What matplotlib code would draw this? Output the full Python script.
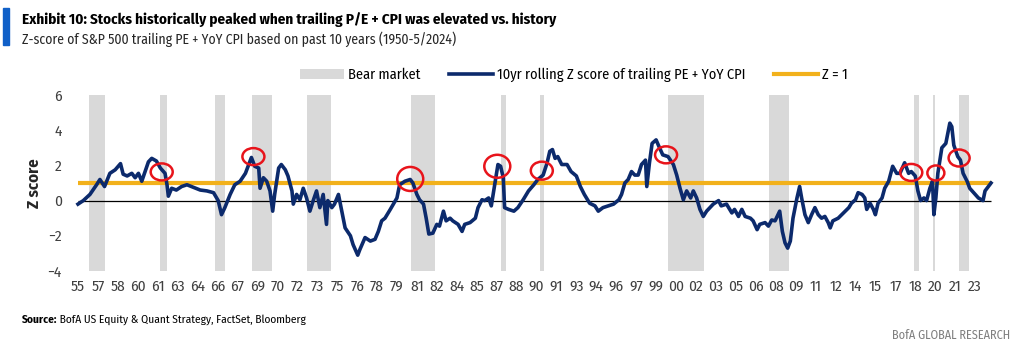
import matplotlib
matplotlib.use('Agg')
import matplotlib.pyplot as plt
from matplotlib.patches import Ellipse, Patch, Rectangle
from matplotlib.lines import Line2D
from matplotlib import font_manager

# monthly z-score (decimal year, z)
years = [1955.9, 1956.3, 1956.8, 1957.3, 1957.55, 1957.9, 1958.3, 1958.7, 1959.1, 1959.3,
         1959.6, 1959.95, 1960.2, 1960.45, 1960.7, 1960.95, 1961.2, 1961.45, 1961.8, 1962.1,
         1962.45, 1962.6, 1962.7, 1962.95, 1963.3, 1963.7, 1964.1, 1964.6, 1965.1, 1965.6,
         1966.1, 1966.45, 1966.7, 1966.95, 1967.35, 1967.7, 1968.1, 1968.5, 1968.7, 1968.95,
         1969.2, 1969.5, 1969.6, 1969.85, 1970.1, 1970.35, 1970.55, 1970.7, 1971.0, 1971.2,
         1971.5, 1971.7, 1972.0, 1972.1, 1972.35, 1972.6, 1972.85, 1973.1, 1973.35, 1973.6,
         1973.85, 1974.1, 1974.35, 1974.6, 1974.7, 1975.0, 1975.2, 1975.5, 1975.7, 1976.0,
         1976.4, 1976.6, 1976.95, 1977.1, 1977.5, 1977.9, 1978.25, 1978.5, 1978.75, 1979.0,
         1979.4, 1979.9, 1980.1, 1980.5, 1980.9, 1981.1, 1981.4, 1981.6, 1981.9, 1982.1,
         1982.3, 1982.6, 1982.9, 1983.1, 1983.4, 1983.6, 1983.9, 1984.1, 1984.5, 1984.8,
         1985.0, 1985.4, 1985.8, 1986.0, 1986.3, 1986.5, 1986.8, 1987.0, 1987.3, 1987.5,
         1987.7, 1987.9, 1988.0, 1988.3, 1988.7, 1989.0, 1989.4, 1989.8, 1990.2, 1990.5,
         1990.9, 1991.2, 1991.4, 1991.6, 1991.8, 1992.0, 1992.3, 1992.7, 1993.0, 1993.4,
         1993.7, 1994.0, 1994.4, 1994.8, 1995.05, 1995.4, 1995.8, 1996.2, 1996.6, 1996.8,
         1997.05, 1997.3, 1997.55, 1997.8, 1998.05, 1998.3, 1998.6, 1998.7, 1998.9, 1999.1,
         1999.4, 1999.6, 1999.9, 2000.3, 2000.7, 2000.95, 2001.2, 2001.45, 2001.7, 2002.0,
         2002.2, 2002.45, 2002.7, 2002.95, 2003.2, 2003.7, 2004.1, 2004.3, 2004.7, 2005.1,
         2005.3, 2005.6, 2005.85, 2006.1, 2006.5, 2006.7, 2007.0, 2007.2, 2007.6, 2007.85,
         2008.1, 2008.35, 2008.7, 2008.9, 2009.1, 2009.3, 2009.5, 2009.7, 2010.0, 2010.2,
         2010.35, 2010.6, 2010.85, 2011.1, 2011.35, 2011.6, 2011.85, 2012.1, 2012.35, 2012.5,
         2012.7, 2013.1, 2013.5, 2013.9, 2014.1, 2014.4, 2014.6, 2014.9, 2015.1, 2015.25,
         2015.5, 2015.75, 2015.9, 2016.1, 2016.4, 2016.6, 2016.9, 2017.2, 2017.5, 2017.75,
         2018.1, 2018.4, 2018.6, 2018.9, 2019.1, 2019.3, 2019.55, 2019.75, 2020.0, 2020.2,
         2020.3, 2020.45, 2020.6, 2020.9, 2021.2, 2021.5, 2021.65, 2021.8, 2022.1, 2022.3,
         2022.5, 2022.8, 2023.0, 2023.3, 2023.65, 2024.0, 2024.15, 2024.4, 2024.6]
zscore = [-0.2, 0.0, 0.35, 0.9, 1.2, 0.8, 1.55, 1.75, 2.1, 1.5,
          1.4, 1.55, 1.3, 1.55, 1.1, 1.65, 2.2, 2.4, 2.25, 1.85,
          1.55, 0.9, 0.25, 0.7, 0.6, 0.8, 0.9, 0.75, 0.6, 0.55,
          0.45, 0.0, -0.8, -0.4, 0.35, 0.9, 1.1, 1.55, 1.95, 2.45,
          1.95, 1.85, 0.7, 1.3, 1.1, 0.55, -0.6, 0.35, 1.85, 2.05,
          1.75, 1.4, 0.55, -0.2, 0.35, 0.05, 0.7, 0.15, -0.6, 0.0,
          0.55, -0.4, 0.35, -1.35, 0.0, -0.4, -0.2, 0.35, -0.4, -1.55,
          -2.0, -2.5, -3.1, -2.8, -2.1, -2.3, -2.2, -1.75, -1.15, -1.0,
          -0.5, 0.15, 0.9, 1.1, 1.2, 1.0, 0.35, 0.05, -0.2, -1.0,
          -1.9, -1.85, -1.35, -1.45, -0.6, -1.15, -1.0, -1.15, -1.35, -1.75,
          -1.35, -1.25, -1.0, -0.4, 0.05, 0.0, 0.15, -0.3, 1.1, 2.05,
          1.95, 1.3, -0.4, -0.5, -0.6, -0.4, 0.05, 0.55, 0.9, 1.2,
          1.45, 2.15, 2.8, 2.9, 2.4, 2.5, 2.05, 2.05, 1.65, 1.4,
          0.8, 0.35, -0.15, -0.3, -0.6, -0.4, -0.3, -0.2, 0.05, 0.35,
          1.0, 1.2, 1.65, 1.45, 1.45, 2.05, 2.3, 0.8, 2.15, 3.25,
          3.45, 3.1, 2.6, 2.5, 2.05, 1.45, 0.7, 0.05, 0.55, 0.15,
          0.55, 0.15, -0.5, -0.9, -0.6, -0.2, 0.0, -0.3, -0.2, -0.7,
          -0.5, -0.9, -0.5, -0.9, -1.0, -1.15, -1.65, -1.35, -1.25, -1.45,
          -1.1, -1.15, -0.6, -1.75, -2.4, -2.7, -2.3, -1.0, 0.15, 0.8,
          0.15, -0.8, -1.25, -0.8, -0.4, -0.8, -1.0, -0.9, -1.25, -1.55,
          -1.15, -1.0, -0.7, -0.4, -0.15, 0.05, 0.45, 0.35, 0.15, -0.5,
          -0.15, -0.5, -0.8, -0.15, 0.15, 0.7, 1.1, 1.95, 1.55, 1.55,
          2.15, 1.55, 1.65, 1.4, 0.55, 0.0, 0.15, 0.0, 0.7, 1.1,
          -0.8, 0.15, 1.55, 3.0, 3.25, 4.4, 4.2, 3.15, 2.5, 2.3,
          1.55, 1.1, 0.7, 0.45, 0.15, 0.0, 0.55, 0.8, 1.0]

# bear market periods (start, end)
bear_start = [1956.73, 1962.07, 1966.2, 1969.0, 1973.13, 1980.96, 1987.7, 1990.66,
              2000.29, 2007.9, 2018.8, 2020.23, 2022.19]
bear_end = [1957.93, 1962.6, 1966.96, 1970.5, 1974.94, 1982.76, 1988.1, 1990.96,
            2003.0, 2009.4, 2019.2, 2020.38, 2022.94]

# highlighted peaks (red circles)
peak_years = [1962.2, 1969.1, 1980.9, 1987.45, 1990.8, 2000.15, 2018.6, 2020.45, 2022.2]
peak_z = [1.63, 2.5, 1.23, 1.95, 1.7, 2.6, 1.6, 1.57, 2.42]

tick_labels = ['55', '57', '58', '60', '61', '63', '64', '66', '67', '69', '70', '72',
               '73', '75', '76', '78', '79', '81', '82', '84', '85', '87', '88', '90',
               '91', '93', '94', '96', '97', '99', '00', '02', '03', '05', '06', '08',
               '09', '11', '12', '14', '15', '17', '18', '20', '21', '23']

# circle sizes in pixels (w, h), as drawn by hand on the original
circle_px = [(22, 17), (22, 17), (26, 24), (26, 23), (22, 18), (22, 17), (22, 17), (17, 15), (21, 17)]

names = {f.name for f in font_manager.fontManager.ttflist}
narrow = 'Roboto'
for cand in ['Fira Sans Condensed', 'Barlow Semi Condensed', 'Archivo Narrow']:
    if cand in names:
        narrow = cand
        break

navy = '#0C2A6C'
gold = '#F2B11B'
grey = '#D9D9D9'

fig = plt.figure(figsize=(10.24, 3.5), dpi=100)
ax = fig.add_axes([70/1024, 1 - 271/350, 925/1024, 176/350])

for a, b in zip(bear_start, bear_end):
    ax.axvspan(a, b, color=grey, lw=0, zorder=0)

ax.hlines(0, years[0], years[-1], color='black', lw=0.9, zorder=2)
ax.hlines(1, years[0], years[-1] + 0.1, color=gold, lw=3, zorder=3)
ax.plot(years, zscore, color=navy, lw=2.6, solid_joinstyle='round', zorder=4)

# px -> data units: 13.29 px per year, 17.6 px per z
for x, y, (w, h) in zip(peak_years, peak_z, circle_px):
    ax.add_patch(Ellipse((x, y), w / 13.29, h / 17.6, fill=False,
                         edgecolor='#E8141B', lw=1.8, zorder=5))

ax.set_xlim(1955.3, 2024.9)
ax.set_ylim(-4, 6)
ax.set_yticks([-4, -2, 0, 2, 4, 6])
ax.set_xticks([1955.9 + 1.5 * i for i in range(len(tick_labels))])
ax.set_xticklabels(tick_labels)
ax.tick_params(length=0, labelsize=11, colors='#404040', labelfontfamily=narrow)
ax.tick_params(axis='x', pad=6)
ax.tick_params(axis='y', pad=6)
for s in ax.spines.values():
    s.set_visible(False)
ax.set_ylabel('Z score', fontweight='bold', fontsize=12, family=narrow, color='#262626')
ax.yaxis.set_label_coords(-(70 - 42) / 925, 0.5)

handles = [Patch(facecolor=grey, edgecolor='none'),
           Line2D([], [], color=navy, lw=2.6),
           Line2D([], [], color=gold, lw=3)]
labels = ['Bear market', '10yr rolling Z score of trailing PE + YoY CPI', 'Z = 1']
fig.legend(handles, labels, loc='center', bbox_to_anchor=(574/1024, 1 - 75/350), ncol=3,
           frameon=False, handlelength=3.0, handleheight=0.6, handletextpad=0.3,
           columnspacing=2.0, prop={'family': narrow, 'size': 10.4})

fig.patches.append(Rectangle((3/1024, 1 - 45/350), 6/1024, 37/350, color='#1060C8',
                             transform=fig.transFigure))
fig.text(22/1024, 1 - 20/350,
         'Exhibit 10: Stocks historically peaked when trailing P/E + CPI was elevated vs. history',
         fontweight='bold', fontsize=10.85, va='center', family=narrow)
fig.text(22/1024, 1 - 39/350,
         'Z-score of S&P 500 trailing PE + YoY CPI based on past 10 years (1950-5/2024)',
         fontsize=9.9, va='center', family=narrow, color='#262626')

src = fig.text(22/1024, 1 - 320/350, 'Source:', fontweight='bold', fontsize=8.2,
               va='center', family=narrow)
plt.annotate(' BofA US Equity & Quant Strategy, FactSet, Bloomberg', xy=(1, 0.5),
             xycoords=src, va='center', ha='left', fontsize=8.2, family=narrow)
fig.text(1010/1024, 1 - 335/350, 'BofA GLOBAL RESEARCH', ha='right', va='center',
         fontsize=8.8, family=narrow, color='#7F7F7F')

fig.savefig('out.png', dpi=100)
